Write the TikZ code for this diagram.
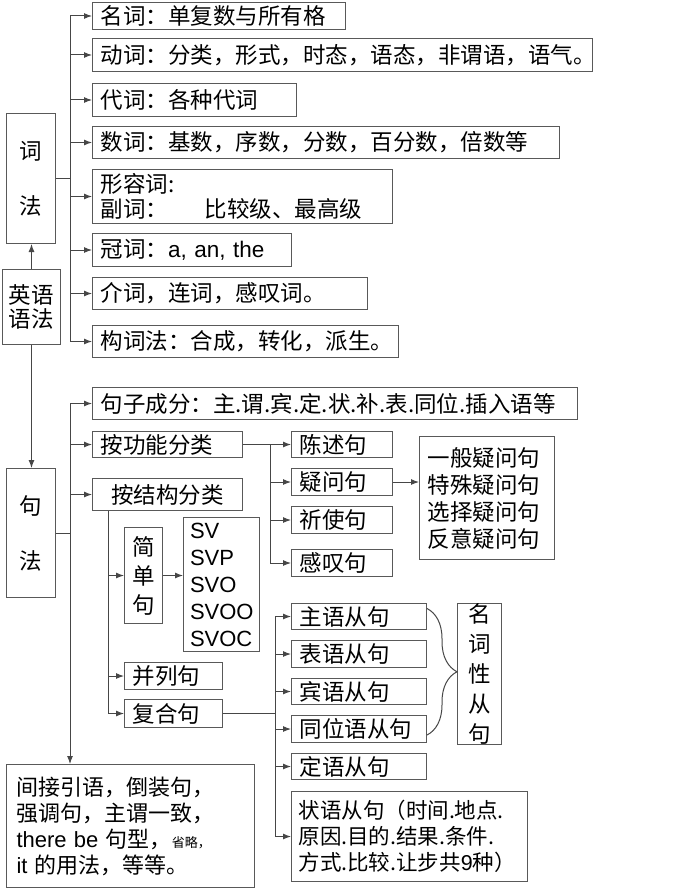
\documentclass[tikz,border=0pt]{standalone}
\usepackage{fontspec}
\setmainfont{Noto Sans CJK SC}
\newfontfamily\arial{Liberation Sans}
\usepackage{tikz}
\usetikzlibrary{arrows.meta, decorations.pathreplacing}
\tikzset{
x=1pt, y=-1pt, % one unit is one pixel of the sheet, y grows downwards
every node/.style={font=\fontsize{22.5}{27}\selectfont}, % size of all texts
box/.style={draw=gray!70!black, line width=1pt, anchor=north west, inner ysep=0pt, inner xsep=8pt}, % framed text
lbox/.style={box, align=left}, % framed text, flush left
cbox/.style={box, align=center, inner xsep=0pt}, % framed text, centred
line/.style={draw=gray!55!black, line width=1pt}, % plain connector
arr/.style={line, -{Latex[length=8pt, width=6pt]}}, % connector with a head
}

\begin{document}
\begin{tikzpicture}
    \useasboundingbox (0,0) rectangle (681,888);
    % left column
    \node[cbox, minimum width=49pt, minimum height=130pt] (cifa) at (6,113) {词\\[28pt]法};
    \node[cbox, minimum width=58pt, minimum height=75pt, font=\fontsize{22.5}{24}\selectfont] (yyyf) at (2,269) {英语\\语法};
    \node[cbox, minimum width=49pt, minimum height=129pt] (jufa) at (6,468) {句\\[28pt]法};
    % word classes
    \node[lbox, text width=237pt, minimum height=27pt] (noun) at (92,2) {名词：单复数与所有格};
    \node[lbox, text width=484pt, minimum height=33pt] (verb) at (92,38) {动词：分类，形式，时态，语态，非谓语，语气。};
    \node[lbox, text width=188pt, minimum height=33pt] (pron) at (92,83) {代词：各种代词};
    \node[lbox, text width=451pt, minimum height=32pt] (num) at (92,126) {数词：基数，序数，分数，百分数，倍数等};
    \node[lbox, text width=284pt, minimum height=54pt, font=\fontsize{22.5}{25}\selectfont] (adj) at (92,169) {形容词:\\副词：\hspace{37pt}比较级、最高级};
    \node[lbox, text width=183pt, minimum height=33pt] (art) at (92,233) {冠词：{\arial a, an, the}};
    \node[lbox, text width=259pt, minimum height=32pt] (prep) at (92,277) {介词，连词，感叹词。};
    \node[lbox, text width=290pt, minimum height=32pt] (wordf) at (92,325) {构词法：合成，转化，派生。};
    % sentences
    \node[lbox, text width=469pt, minimum height=32pt] (comp) at (92,387) {句子成分：主.谓.宾.定.状.补.表.同位.插入语等};
    \node[lbox, text width=134pt, minimum height=26pt] (func) at (92,431) {按功能分类};
    \node[cbox, minimum width=150pt, minimum height=32pt] (struct) at (92,478) {按结构分类};
    \node[lbox, text width=85pt, minimum height=26pt] (decl) at (291,431) {陈述句};
    \node[lbox, text width=85pt, minimum height=27pt] (ques) at (291,468) {疑问句};
    \node[lbox, text width=85pt, minimum height=27pt] (imp) at (291,506) {祈使句};
    \node[lbox, text width=85pt, minimum height=27pt] (excl) at (291,549) {感叹句};
    \node[lbox, text width=119pt, minimum height=123pt] (qtypes) at (419,436) {一般疑问句\\特殊疑问句\\选择疑问句\\反意疑问句};
    \node[cbox, minimum width=38pt, minimum height=96pt, font=\fontsize{22.5}{29}\selectfont] (simp) at (124,527) {简\\单\\句};
    \node[lbox, text width=63pt, inner xsep=6.5pt, minimum height=134pt, font=\arial\fontsize{22}{27}\selectfont] (sv) at (183,517) {SV\\SVP\\SVO\\SVOO\\SVOC};
    \node[lbox, text width=82pt, minimum height=27pt] (para) at (124,662) {并列句};
    \node[lbox, text width=82pt, minimum height=28pt] (cplx) at (124,699) {复合句};
    % clauses
    \node[lbox, text width=119pt, minimum height=26pt] (subj) at (291,603) {主语从句};
    \node[lbox, text width=119pt, minimum height=27pt] (pred) at (291,640) {表语从句};
    \node[lbox, text width=119pt, minimum height=26pt] (obj) at (291,678) {宾语从句};
    \node[lbox, text width=119pt, minimum height=27pt] (appo) at (291,715) {同位语从句};
    \node[lbox, text width=119pt, minimum height=26pt] (attr) at (291,753) {定语从句};
    \node[lbox, text width=222pt, inner xsep=7pt, minimum height=90pt, font=\fontsize{21.5}{26}\selectfont] (advl) at (291,791) {状语从句（时间.地点.\\原因.目的.结果.条件.\\方式.比较.让步共{\arial 9}种）};
    \node[cbox, minimum width=44pt, minimum height=134pt, font=\fontsize{22.5}{30}\selectfont] (nclause) at (457,603) {名\\词\\性\\从\\句};
    \node[lbox, text width=228pt, inner xsep=10pt, minimum height=123pt, font=\fontsize{22}{26}\selectfont] (misc) at (6,764) {间接引语，倒装句，\\强调句，主谓一致，\\{\arial there be} 句型，{\fontsize{13}{13}\selectfont 省略，}\\{\arial it} 的用法，等等。};

    % trunks
    \coordinate (ct) at (70,0);
    \coordinate (ft) at (270,0);
    \coordinate (st) at (108,0);
    \coordinate (kt) at (275,0);

    \draw[arr] (yyyf.north) -- (yyyf.north |- cifa.south);
    \draw[arr] (yyyf.south) -- (yyyf.south |- jufa.north);

    \draw[line] (cifa.east) -- (cifa.east -| ct);
    \draw[line] (ct |- noun.west) -- (ct |- wordf.west);
    \draw (ct |- noun.west) edge[arr] (noun.west)
    (ct |- verb.west) edge[arr] (verb.west)
    (ct |- pron.west) edge[arr] (pron.west)
    (ct |- num.west) edge[arr] (num.west)
    (ct |- adj.west) edge[arr] (adj.west)
    (ct |- art.west) edge[arr] (art.west)
    (ct |- prep.west) edge[arr] (prep.west)
    (ct |- wordf.west) edge[arr] (wordf.west);

    \draw[line] (jufa.east) -- (jufa.east -| ct);
    \draw[arr] (ct |- comp.west) -- (ct |- misc.north);
    \draw (ct |- comp.west) edge[arr] (comp.west)
    (ct |- func.west) edge[arr] (func.west)
    (ct |- struct.west) edge[arr] (struct.west);

    \draw[arr] (func.east) -- (decl.west);
    \draw[line] (ft |- decl.west) -- (ft |- excl.west);
    \draw (ft |- ques.west) edge[arr] (ques.west)
    (ft |- imp.west) edge[arr] (imp.west)
    (ft |- excl.west) edge[arr] (excl.west)
    (ques.east) edge[arr] (ques.east -| qtypes.west);

    \draw[line] (st |- struct.south) -- (st |- cplx.west);
    \draw (st |- simp.west) edge[arr] (simp.west)
    (st |- para.west) edge[arr] (para.west)
    (st |- cplx.west) edge[arr] (cplx.west)
    (simp.east) edge[arr] (simp.east -| sv.west);

    \draw[line] (cplx.east) -- (cplx.east -| kt);
    \draw[line] (kt |- subj.west) -- (kt |- advl.west);
    \draw (kt |- subj.west) edge[arr] (subj.west)
    (kt |- pred.west) edge[arr] (pred.west)
    (kt |- obj.west) edge[arr] (obj.west)
    (kt |- appo.west) edge[arr] (appo.west)
    (kt |- attr.west) edge[arr] (attr.west)
    (kt |- advl.west) edge[arr] (advl.west);

    \draw[line, decorate, decoration={brace, amplitude=30pt}] ([yshift=8pt]subj.east) -- ([yshift=-6pt]appo.east);
\end{tikzpicture}
\end{document}
